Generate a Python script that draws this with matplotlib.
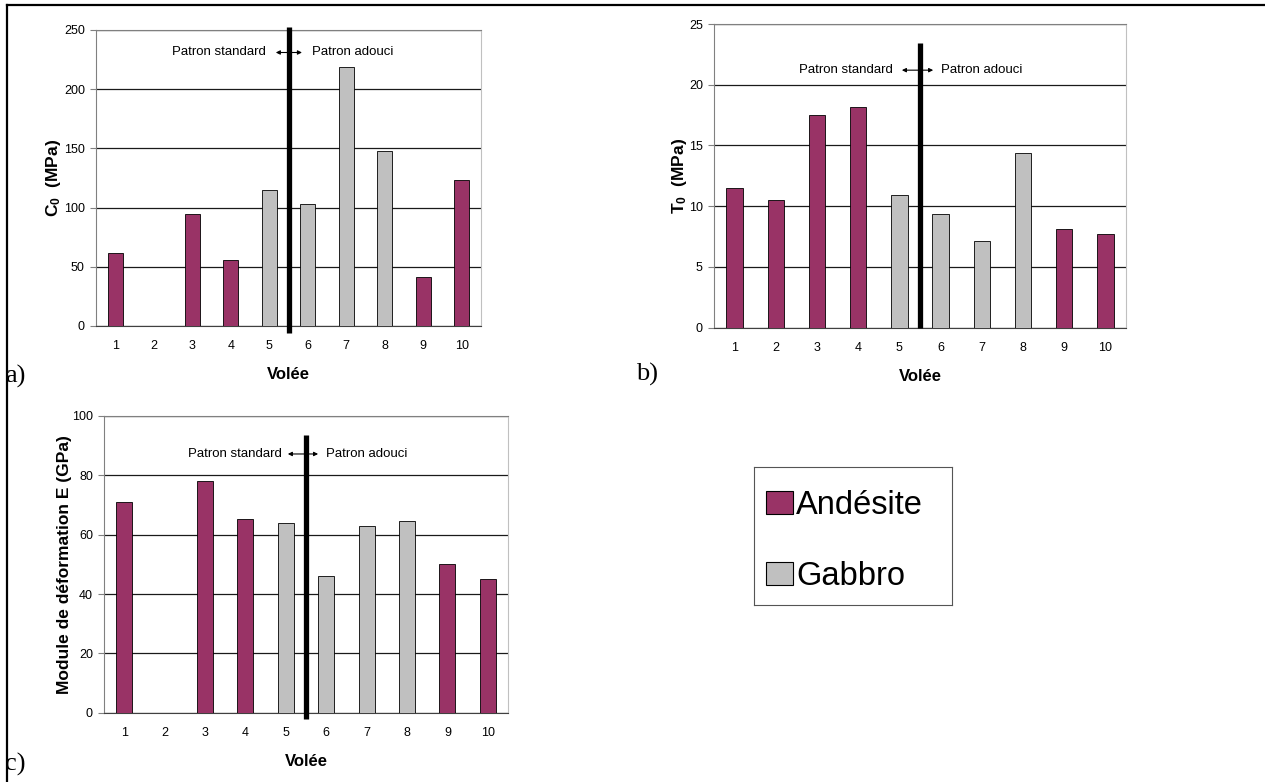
import numpy as np
import matplotlib
matplotlib.use("Agg")
import matplotlib.pyplot as plt
from matplotlib.patches import Patch
from matplotlib.lines import Line2D
from matplotlib import transforms

plt.rcParams['font.family'] = ['Liberation Sans', 'DejaVu Sans']
plt.rcParams['mathtext.fontset'] = 'custom'
plt.rcParams['mathtext.rm'] = 'Liberation Sans:bold'
plt.rcParams['mathtext.bf'] = 'Liberation Sans:bold'

# Données
volees = [1, 2, 3, 4, 5, 6, 7, 8, 9, 10]
roche = ['Andésite', 'Andésite', 'Andésite', 'Andésite', 'Gabbro',
         'Gabbro', 'Gabbro', 'Gabbro', 'Andésite', 'Andésite']
c0 = [62, np.nan, 95, 56, 115, 103, 219, 148, 41, 123]
t0 = [11.5, 10.5, 17.5, 18.2, 10.9, 9.4, 7.1, 14.4, 8.1, 7.7]
e_mod = [71, np.nan, 78, 65.3, 64, 46, 62.8, 64.5, 50, 45]

couleurs = {'Andésite': '#993366', 'Gabbro': '#C0C0C0'}

fig = plt.figure(figsize=(12.65, 7.82), dpi=100)
W, H = 1265, 782


def box(x0, y0, x1, y1):
    # pixels -> fraction de figure
    return [x0 / W, 1 - y1 / H, (x1 - x0) / W, (y1 - y0) / H]


def panneau(rect, valeurs, ymax, pas, ylabel, ytexte, sep_haut, sep_bas, xs,
            pad_y):
    ax = fig.add_axes(rect)
    cols = [couleurs[r] for r in roche]
    ax.bar(volees, valeurs, width=0.4, color=cols, edgecolor='black',
           linewidth=0.6, zorder=3)
    ax.set_xlim(0.5, 10.5)
    ax.set_ylim(0, ymax)
    ax.set_yticks(np.arange(0, ymax + pas / 2, pas))
    ax.set_xticks(volees)
    ax.yaxis.grid(True, color='#1a1a1a', linewidth=0.9, zorder=0)
    ax.set_axisbelow(True)
    for s in ['left', 'top']:
        ax.spines[s].set_color('#808080')
    ax.spines['right'].set_color('#c0c0c0')
    ax.spines['bottom'].set_color('#404040')
    ax.tick_params(axis='y', labelsize=9, length=4, color='#808080', pad=4)
    ax.tick_params(axis='x', labelsize=9, length=0, pad=10)
    ax.set_xlabel('Volée', fontsize=12, fontweight='bold', labelpad=11)
    ax.set_ylabel(ylabel, fontsize=12.5, fontweight='bold', labelpad=pad_y)

    # séparation des patrons
    tr = transforms.blended_transform_factory(ax.transData, ax.transAxes)
    ax.plot([5.5, 5.5], [sep_bas, sep_haut], color='black', linewidth=3.8,
            transform=tr, clip_on=False, zorder=5, solid_capstyle='butt')
    ax.text(xs[0], ytexte, 'Patron standard', ha='right', va='center',
            fontsize=9.5, zorder=6)
    ax.text(xs[3], ytexte, 'Patron adouci', ha='left', va='center',
            fontsize=9.5, zorder=6)
    ax.annotate('', xy=(xs[1], ytexte), xytext=(5.5, ytexte),
                arrowprops=dict(arrowstyle='-|>', color='black', lw=0.8,
                                mutation_scale=6, shrinkA=0, shrinkB=0))
    ax.annotate('', xy=(xs[2], ytexte), xytext=(5.5, ytexte),
                arrowprops=dict(arrowstyle='-|>', color='black', lw=0.8,
                                mutation_scale=6, shrinkA=0, shrinkB=0))
    return ax


panneau(box(96, 30, 481, 326), c0, 250, 50, r'$\mathbf{C_0}$  (MPa)',
        231, 1.01, -0.024, (4.92, 5.17, 5.85, 6.11), 1)
panneau(box(714, 24, 1126, 327.7), t0, 25, 5, r'$\mathbf{T_0}$  (MPa)',
        21.2, 0.937, 0.0, (4.84, 5.06, 5.82, 6.0), 0)
panneau(box(104, 416, 508, 712.7), e_mod, 100, 20,
        'Module de déformation E (GPa)',
        87.2, 0.936, -0.021, (4.9, 5.05, 5.8, 6.0), 0)

# étiquettes des panneaux
for x, y, t in [(5, 376, 'a)'), (636, 374, 'b)'), (5, 764, 'c)')]:
    fig.text(x / W, 1 - y / H, t, fontsize=19, family='Liberation Serif',
             ha='left', va='center')

# légende
axl = fig.add_axes(box(754, 467, 952, 605))
axl.set_xticks([])
axl.set_yticks([])
for s in axl.spines.values():
    s.set_color('#555555')
    s.set_linewidth(0.8)
poignees = [Patch(facecolor=couleurs[n], edgecolor='black', linewidth=0.8)
            for n in ['Andésite', 'Gabbro']]
axl.legend(poignees, ['Andésite', 'Gabbro'], loc='center left',
           bbox_to_anchor=(0.0, 0.465), frameon=False, fontsize=23.5,
           handlelength=0.8, handleheight=0.68, handletextpad=0.12,
           labelspacing=1.22, borderaxespad=0.0, borderpad=0.38)

# cadre de la figure (haut et gauche)
fig.add_artist(Line2D([7 / W, 1.0], [1 - 5 / H, 1 - 5 / H], color='black',
                      linewidth=1.6))
fig.add_artist(Line2D([7 / W, 7 / W], [1 - 5 / H, 0.0], color='black',
                      linewidth=1.6))

fig.savefig('out.png', dpi=100)
